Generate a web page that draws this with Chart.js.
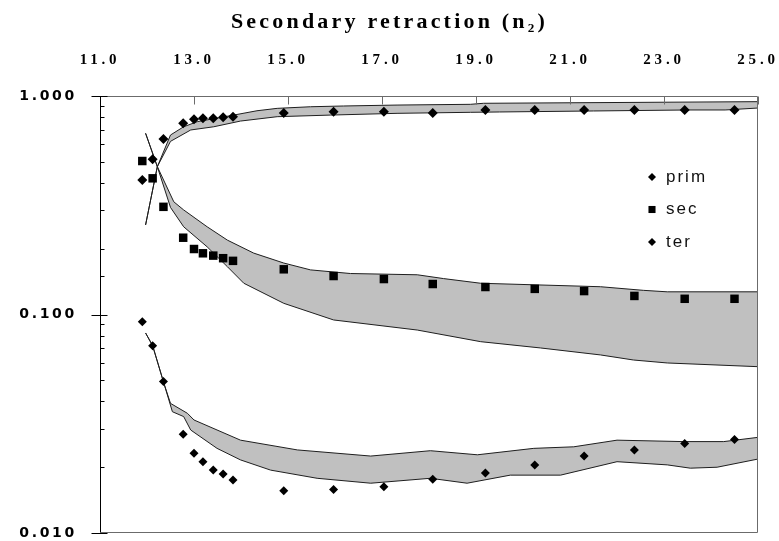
<!DOCTYPE html>
<html>
<head>
<meta charset="utf-8">
<script src="https://cdn.jsdelivr.net/npm/chart.js@4.4.1/dist/chart.umd.min.js"></script>
<style>
  html, body { margin: 0; background: #fff; }
  canvas { display: block; }
</style>
</head>
<body>
<canvas id="chart" width="779" height="541"></canvas>
<script>
// n2 positions of the measured points
const markerX = [11.9, 12.12, 12.35, 12.77, 13.0, 13.19, 13.41, 13.62, 13.83, 14.91, 15.97, 17.04, 18.08, 19.2, 20.25, 21.3, 22.37, 23.44, 24.5];
const primVals = [0.413, 0.513, 0.636, 0.75, 0.782, 0.79, 0.79, 0.80, 0.804, 0.836, 0.848, 0.848, 0.835, 0.863, 0.863, 0.863, 0.863, 0.863, 0.863];
const secVals = [0.504, 0.42, 0.311, 0.2246, 0.1994, 0.1906, 0.186, 0.181, 0.176, 0.161, 0.150, 0.1453, 0.1379, 0.1336, 0.131, 0.128, 0.1216, 0.118, 0.118];
const terVals = [0.0927, 0.072, 0.0493, 0.0283, 0.0232, 0.0212, 0.0194, 0.0186, 0.0175, 0.0156, 0.0158, 0.0163, 0.0176, 0.0188, 0.0205, 0.0225, 0.024, 0.0257, 0.0268];

// model bands, [n2, fraction]
const primUpper = [[11.97, 0.257], [12.22, 0.475], [12.5, 0.663], [12.78, 0.723], [13.07, 0.763], [13.78, 0.813], [14.34, 0.856], [14.77, 0.878], [15.48, 0.893], [16.18, 0.900], [17.32, 0.909], [18.88, 0.916], [19.16, 0.926], [25, 0.942]];
const primLower = [[11.97, 0.257], [12.22, 0.475], [12.5, 0.62], [12.93, 0.699], [13.42, 0.723], [13.99, 0.768], [14.77, 0.804], [15.91, 0.818], [17.32, 0.833], [18.88, 0.842], [19.5, 0.845], [21.5, 0.854], [23.5, 0.863], [24.3, 0.863], [25, 0.881]];
const secUpper = [[11.97, 0.675], [12.22, 0.475], [12.57, 0.328], [12.78, 0.301], [13.28, 0.252], [13.71, 0.219], [14.27, 0.191], [14.91, 0.172], [15.48, 0.160], [16.33, 0.154], [17.75, 0.152], [18.31, 0.146], [19.1, 0.139], [21.65, 0.134], [22.56, 0.129], [23.07, 0.127], [25, 0.127]];
const secLower = [[11.97, 0.675], [12.22, 0.475], [12.5, 0.309], [12.78, 0.252], [13.28, 0.204], [13.71, 0.1655], [14.06, 0.139], [14.91, 0.1125], [15.97, 0.0944], [17.75, 0.0849], [19.1, 0.0751], [20.37, 0.0703], [21.65, 0.0653], [22.35, 0.0619], [23.07, 0.060], [25, 0.0577]];
const terUpper = [[11.97, 0.0823], [12.12, 0.072], [12.36, 0.0484], [12.5, 0.0392], [12.86, 0.0353], [13.0, 0.0329], [13.99, 0.0266], [15.2, 0.024], [16.76, 0.0225], [18.03, 0.0238], [19.03, 0.0228], [20.23, 0.0244], [21.08, 0.0248], [22.0, 0.0266], [23.42, 0.0262], [24.27, 0.0262], [25, 0.0274]];
const terLower = [[11.97, 0.0823], [12.12, 0.072], [12.36, 0.0484], [12.54, 0.0359], [12.78, 0.0341], [12.93, 0.0296], [13.49, 0.0244], [13.99, 0.0216], [14.63, 0.0194], [15.62, 0.0178], [16.76, 0.0169], [18.03, 0.0178], [18.81, 0.0169], [19.73, 0.0184], [20.8, 0.0184], [22.0, 0.0212], [23.07, 0.0205], [23.56, 0.0198], [24.13, 0.02], [25, 0.0218]];

const xTicks = [11, 13, 15, 17, 19, 21, 23, 25];
const titleText = "Secondary retraction (n\u2082)";

const toXY = (pairs) => pairs.map(p => ({ x: p[0], y: p[1] }));
const markers = (vals) => markerX.map((x, i) => ({ x, y: vals[i] }));
const isMajor = (v) => Math.abs(Math.log10(v) - Math.round(Math.log10(v))) < 1e-6;

function edge(pairs, fill) {
  return {
    data: toXY(pairs),
    borderColor: "#1e1e1e",
    borderWidth: 1,
    backgroundColor: "#c0c0c0",
    pointRadius: 0,
    tension: 0,
    fill: fill,
    order: 2
  };
}

function marks(label, vals, style, r, legendR) {
  return {
    label,
    data: markers(vals),
    showLine: false,
    pointStyle: style,
    pointRadius: r,
    pointHoverRadius: r,
    pointBackgroundColor: "#000",
    pointBorderColor: "#000",
    pointBorderWidth: 0,
    legendRadius: legendR,
    inLegend: true,
    order: 1
  };
}

// canvas letter spacing for the wide lettering of the original
function spaced(obj, fn, sp) {
  if (!obj || obj["_sp_" + fn]) return;
  const orig = obj[fn];
  obj[fn] = function (...args) {
    const c = this.ctx;
    c.save();
    c.letterSpacing = sp;
    orig.apply(this, args);
    c.restore();
  };
  obj["_sp_" + fn] = true;
}

const spacing = {
  id: "spacing",
  beforeDraw(chart) {
    spaced(chart.titleBlock, "draw", "3.2px");
    spaced(chart.scales.x, "drawLabels", "3.8px");
    spaced(chart.scales.y, "drawLabels", "2.7px");
  }
};

const frame = {
  id: "frame",
  afterDraw(chart) {
    const { ctx, chartArea: a } = chart;
    const xs = chart.scales.x, ys = chart.scales.y;
    const L = Math.round(a.left) + 0.5, R = Math.round(a.right) - 0.5;
    const T = Math.round(a.top) + 0.5, B = Math.round(a.bottom) - 0.5;
    ctx.save();
    ctx.lineWidth = 1;
    ctx.strokeStyle = "#6b6b6b";
    ctx.beginPath();
    ctx.moveTo(L, T); ctx.lineTo(R, T); ctx.lineTo(R, B); ctx.lineTo(L, B);
    xs.ticks.forEach(t => {
      const px = Math.round(xs.getPixelForValue(t.value)) + 0.5;
      ctx.moveTo(px, T); ctx.lineTo(px, T + 8);
    });
    ctx.stroke();
    ctx.strokeStyle = "#000";
    ctx.beginPath();
    ctx.moveTo(L, T); ctx.lineTo(L, B);
    ys.ticks.forEach(t => {
      const py = Math.round(ys.getPixelForValue(t.value)) + 0.5;
      if (isMajor(t.value)) { ctx.moveTo(L - 9, py); ctx.lineTo(L + 7, py); }
      else { ctx.moveTo(L, py); ctx.lineTo(L + 4, py); }
    });
    ctx.stroke();

    // legend inside the plot
    const items = chart.data.datasets.filter(d => d.inLegend);
    ctx.font = '17px "Liberation Sans", Arial, sans-serif';
    ctx.letterSpacing = "2px";
    ctx.textBaseline = "middle";
    items.forEach((d, i) => {
      const y = a.top + 81 + i * 32.5;
      ctx.fillStyle = "#000";
      Chart.helpers.drawPoint(ctx, { pointStyle: d.pointStyle, radius: d.legendRadius, borderWidth: 0, rotation: 0 }, a.right - 106, y);
      ctx.fillStyle = "#111";
      ctx.fillText(d.label, a.right - 92, y);
    });
    ctx.restore();
  }
};

new Chart(document.getElementById("chart"), {
  type: "line",
  data: {
    datasets: [
      edge(primLower, false),
      edge(primUpper, 0),
      edge(secLower, false),
      edge(secUpper, 2),
      edge(terLower, false),
      edge(terUpper, 4),
      marks("prim", primVals, "rectRot", 5, 4),
      marks("sec", secVals, "rect", 6, 5),
      marks("ter", terVals, "rectRot", 4.5, 4)
    ]
  },
  options: {
    responsive: false,
    animation: false,
    layout: { padding: { left: 0, right: 0, top: 0, bottom: 8 } },
    scales: {
      x: {
        type: "linear",
        position: "top",
        min: xTicks[0],
        max: xTicks[xTicks.length - 1],
        grid: { display: false, drawTicks: false },
        border: { display: false },
        ticks: {
          stepSize: 2,
          padding: 27,
          autoSkip: false,
          maxRotation: 0,
          color: "#000",
          font: { family: '"Liberation Serif", "Times New Roman", serif', weight: "bold", size: 15, lineHeight: 1.2 },
          callback: v => Number(v).toFixed(1)
        },
        afterFit: s => { s.height = 60.6; s.paddingLeft = 0; s.paddingRight = 0; }
      },
      y: {
        type: "logarithmic",
        min: 0.01,
        max: 1,
        grid: { display: false, drawTicks: false },
        border: { display: false },
        ticks: {
          autoSkip: false,
          padding: 23,
          color: "#000",
          font: { family: '"DejaVu Sans", sans-serif', weight: "bold", size: 14 },
          callback: v => isMajor(v) ? Number(v).toFixed(3) : ""
        },
        afterFit: s => { s.width = 100; s.paddingTop = 0; s.paddingBottom = 0; }
      },
      // empty margin on the right so the title stays centred on the page
      margin: {
        type: "linear",
        position: "right",
        grid: { display: false, drawTicks: false },
        border: { display: false },
        ticks: { display: false },
        afterFit: s => { s.width = 21; s.paddingTop = 0; s.paddingBottom = 0; }
      }
    },
    plugins: {
      legend: { display: false },
      tooltip: { enabled: false },
      title: {
        display: true,
        text: titleText,
        color: "#000",
        font: { family: '"Liberation Serif", "Times New Roman", serif', weight: "bold", size: 22, lineHeight: 1.2 },
        padding: { top: 9, bottom: 0 }
      }
    }
  },
  plugins: [spacing, frame]
});
</script>
</body>
</html>
